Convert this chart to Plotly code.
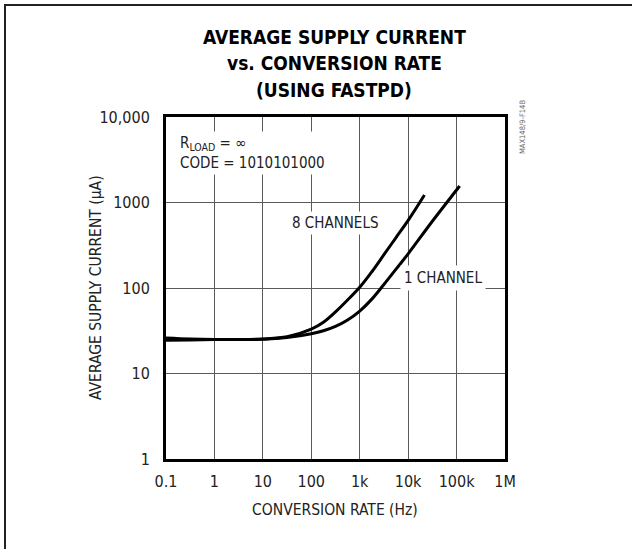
import plotly.graph_objects as go

# ---- data ----
rate_8ch = [0.1, 0.316, 1, 3.16, 10, 31.6, 100, 178, 316, 562, 1000, 1780, 3160, 5620, 10000, 21700]
curr_8ch = [26.0, 25.3, 25.0, 25.0, 25.4, 26.9, 33.1, 39.8, 52.5, 72.4, 102, 155, 245, 389, 617, 1225]

rate_1ch = [0.1, 0.316, 1, 3.16, 10, 31.6, 100, 178, 316, 562, 1000, 1780, 3160, 5620, 10000, 31600, 100000, 116000]
curr_1ch = [24.5, 24.7, 24.9, 25.0, 25.1, 26.3, 29.2, 31.6, 35.5, 42.2, 53.7, 74.1, 110, 166, 251, 603, 1400, 1560]

x_tickvals = [0.1, 1, 10, 100, 1000, 10000, 100000, 1000000]
x_ticktext = ["0.1", "1", "10", "100", "1k", "10k", "100k", "1M"]
y_tickvals = [1, 10, 100, 1000, 10000]
y_ticktext = ["1", "10", "100", "1000", "10,000"]

W, H = 632, 549
L, R, T, B = 166, 505, 117, 459
FONT = "Liberation Sans Narrow, DejaVu Sans Condensed, Arial Narrow, sans-serif"
TXT = "#222"

def px(x):
    return (x - L) / (R - L)

def py(y):
    return (B - y) / (B - T)

fig = go.Figure()
line_style = dict(color="black", width=3, shape="spline", smoothing=1.0)
fig.add_trace(go.Scatter(x=rate_8ch, y=curr_8ch, mode="lines", line=line_style, name="8 CHANNELS"))
fig.add_trace(go.Scatter(x=rate_1ch, y=curr_1ch, mode="lines", line=line_style, name="1 CHANNEL"))

axis_common = dict(
    showline=True, linecolor="black", linewidth=3, mirror=True,
    showgrid=True, gridcolor="#5a5a5a", gridwidth=1,
    ticks="", zeroline=False,
    tickfont=dict(family=FONT, size=16, color=TXT),
)
fig.update_xaxes(type="log", range=[-1, 6], tickvals=x_tickvals, ticktext=x_ticktext,
                 ticklabelstandoff=6, **axis_common)
fig.update_yaxes(type="log", range=[0, 4], tickvals=y_tickvals, ticktext=y_ticktext,
                 ticklabelstandoff=10, **axis_common)

ann = []
title_lines = ["AVERAGE SUPPLY CURRENT", "vs. CONVERSION RATE", "(USING FASTPD)"]
for txt, yy in zip(title_lines, [37, 63, 90]):
    ann.append(dict(text="<b>" + txt + "</b>", x=px(334), y=py(yy), xref="paper", yref="paper",
                    xanchor="center", yanchor="middle", showarrow=False,
                    font=dict(family=FONT, size=19, color="black")))
ann.append(dict(text="CONVERSION RATE (Hz)", x=px(335), y=py(510), xref="paper", yref="paper",
                xanchor="center", yanchor="middle", showarrow=False,
                font=dict(family=FONT, size=15.5, color=TXT)))
ann.append(dict(text="AVERAGE SUPPLY CURRENT (µA)", x=px(96), y=py(288), xref="paper", yref="paper",
                xanchor="center", yanchor="middle", showarrow=False, textangle=-90,
                font=dict(family=FONT, size=15.5, color=TXT)))
ann.append(dict(text="R<sub>LOAD</sub> = ∞<br>CODE = 1010101000", x=px(177), y=py(153),
                xref="paper", yref="paper", xanchor="left", yanchor="middle", align="left",
                showarrow=False, bgcolor="white", borderpad=2,
                font=dict(family=FONT, size=15, color=TXT)))
ann.append(dict(text="8 CHANNELS", x=px(335), y=py(223), xref="paper", yref="paper",
                xanchor="center", yanchor="middle", showarrow=False, bgcolor="white", borderpad=2,
                font=dict(family=FONT, size=15, color=TXT)))
ann.append(dict(text="1 CHANNEL", x=px(443), y=py(278), xref="paper", yref="paper",
                xanchor="center", yanchor="middle", showarrow=False, bgcolor="white", borderpad=3,
                font=dict(family=FONT, size=15, color=TXT)))
ann.append(dict(text="MAX148/9-F14B", x=px(522), y=py(127), xref="paper", yref="paper",
                xanchor="center", yanchor="middle", showarrow=False, textangle=-90,
                font=dict(family=FONT, size=7.5, color="#666")))

shapes = [
    dict(type="line", xref="paper", yref="paper", x0=px(5), x1=px(5), y0=py(4), y1=py(H + 50),
         line=dict(color="#222", width=2)),
    dict(type="line", xref="paper", yref="paper", x0=px(4), x1=px(W + 200), y0=py(5), y1=py(5),
         line=dict(color="#222", width=2)),
]

fig.update_layout(
    width=W, height=H,
    margin=dict(l=L, r=W - R, t=T, b=H - B),
    paper_bgcolor="white", plot_bgcolor="white",
    showlegend=False,
    annotations=ann, shapes=shapes,
    font=dict(family=FONT),
)

fig.write_html("out.html", config={"displayModeBar": False, "staticPlot": True},
               post_script="document.body.style.margin='0';document.body.style.overflow='hidden';")
